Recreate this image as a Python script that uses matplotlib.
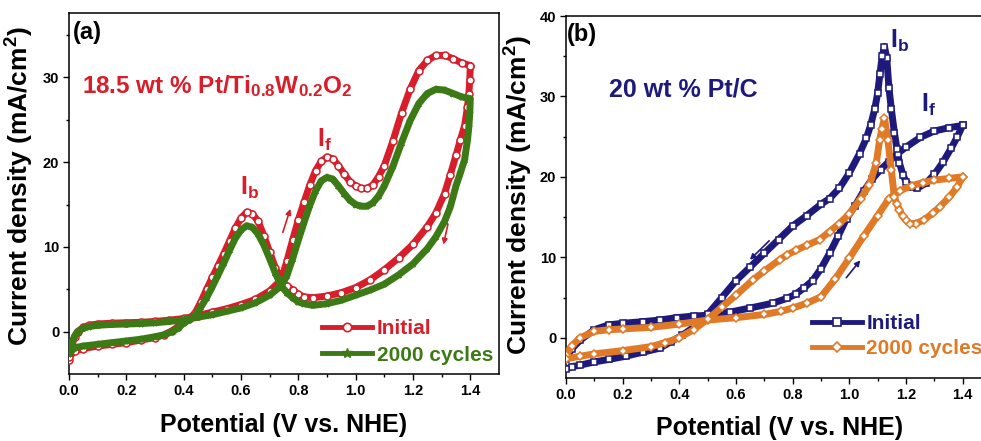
#cyclic voltammograms of Pt/Ti0.8W0.2O2 and Pt/C, initial vs 2000 cycles

import numpy as np
import matplotlib
matplotlib.use('Agg')
import matplotlib.pyplot as plt
from matplotlib.lines import Line2D

plt.rcParams['font.family'] = ['Liberation Sans', 'DejaVu Sans']
plt.rcParams['font.weight'] = 'bold'
plt.rcParams['mathtext.fontset'] = 'custom'
plt.rcParams['mathtext.rm'] = 'Liberation Sans:bold'
plt.rcParams['mathtext.bf'] = 'Liberation Sans:bold'
plt.rcParams['mathtext.it'] = 'Liberation Sans:bold'
plt.rcParams['mathtext.default'] = 'bf'

# ---- panel (a): 18.5 wt % Pt/Ti0.8W0.2O2 ----
a_fwd_v = [0.0, 0.01, 0.02, 0.03, 0.05, 0.07, 0.1, 0.15, 0.2, 0.25, 0.3, 0.35, 0.4, 0.45,
           0.5, 0.55, 0.6, 0.65, 0.7, 0.74, 0.76, 0.78, 0.8, 0.82, 0.84, 0.86, 0.88, 0.9,
           0.92, 0.94, 0.96, 0.98, 1.0, 1.02, 1.04, 1.06, 1.08, 1.1, 1.13, 1.16, 1.19, 1.22,
           1.25, 1.28, 1.31, 1.34, 1.37, 1.4]
a_init_fwd = [-3.3, -1.6, -0.6, 0.0, 0.5, 0.75, 0.9, 1.0, 1.05, 1.1, 1.2, 1.35, 1.55, 1.9,
              2.3, 2.7, 3.2, 3.8, 4.8, 6.1, 8.3, 10.8, 13.2, 15.3, 17.3, 19.0, 20.1, 20.6,
              20.4, 19.6, 18.6, 17.7, 17.2, 16.9, 16.9, 17.3, 18.3, 19.6, 22.5, 25.8, 28.6, 30.8,
              32.0, 32.6, 32.6, 32.2, 31.7, 31.4]
a_cyc_fwd = [-2.6, -1.3, -0.5, 0.0, 0.4, 0.6, 0.75, 0.85, 0.9, 0.95, 1.05, 1.2, 1.4, 1.7,
             2.0, 2.4, 2.8, 3.4, 4.3, 5.4, 6.6, 8.6, 10.8, 12.9, 14.9, 16.6, 17.8, 18.2,
             18.0, 17.2, 16.3, 15.5, 15.0, 14.8, 14.8, 15.2, 16.0, 17.2, 19.5, 22.3, 24.9, 26.9,
             28.1, 28.6, 28.5, 28.1, 27.7, 27.5]

a_bwd_v = [1.4, 1.398, 1.395, 1.39, 1.38, 1.365, 1.35, 1.33, 1.31, 1.28, 1.25, 1.2, 1.15,
           1.1, 1.05, 1.0, 0.95, 0.9, 0.85, 0.82, 0.8, 0.78, 0.76, 0.74, 0.72, 0.7, 0.68,
           0.66, 0.64, 0.62, 0.6, 0.58, 0.56, 0.54, 0.52, 0.5, 0.48, 0.46, 0.44, 0.42, 0.4,
           0.38, 0.36, 0.33, 0.3, 0.25, 0.2, 0.15, 0.1, 0.05, 0.02, 0.0]
a_init_bwd = [31.4, 29.7, 28.1, 26.5, 24.3, 22.6, 20.8, 18.5, 16.3, 14.0, 12.4, 10.3, 8.7,
              7.3, 6.1, 5.2, 4.6, 4.2, 4.0, 4.1, 4.4, 4.9, 5.4, 6.1, 7.5, 9.4, 11.3,
              13.0, 13.9, 14.1, 13.4, 12.2, 10.7, 9.2, 7.8, 6.4, 5.0, 3.5, 2.2, 1.5, 1.2,
              0.6, 0.1, -0.4, -0.7, -1.0, -1.3, -1.5, -1.7, -2.0, -2.3, -3.0]
a_cyc_bwd = [27.5, 25.8, 24.2, 22.6, 20.3, 18.7, 17.2, 14.7, 13.0, 11.2, 9.8, 8.0, 6.7,
             5.6, 4.9, 4.3, 3.7, 3.3, 3.1, 3.3, 3.5, 4.0, 4.6, 5.4, 6.9, 8.6, 10.2,
             11.5, 12.3, 12.5, 12.0, 11.0, 9.6, 8.1, 6.7, 5.3, 4.0, 2.9, 1.9, 1.4, 1.0,
             0.4, 0.0, -0.4, -0.6, -0.9, -1.1, -1.3, -1.5, -1.7, -1.9, -2.6]

# ---- panel (b): 20 wt % Pt/C ----
b_init_fwd_v = [0.0, 0.02, 0.05, 0.1, 0.15, 0.2, 0.27, 0.33, 0.39, 0.45, 0.5, 0.58, 0.65,
                0.73, 0.78, 0.81, 0.84, 0.87, 0.9, 0.93, 0.96, 0.99, 1.02, 1.05, 1.08, 1.11,
                1.14, 1.17, 1.2, 1.25, 1.3, 1.35, 1.4]
b_init_fwd = [-2.6, -1.4, -0.3, 1.0, 1.6, 1.8, 2.0, 2.2, 2.5, 2.7, 2.8, 3.2, 3.7,
              4.3, 4.9, 5.4, 6.2, 7.1, 8.6, 10.5, 12.6, 14.8, 16.4, 18.2, 19.7, 20.9,
              21.9, 22.9, 23.7, 24.9, 25.7, 26.1, 26.4]
b_init_bwd_v = [1.4, 1.38, 1.36, 1.33, 1.3, 1.27, 1.24, 1.22, 1.2, 1.19, 1.177, 1.168, 1.159,
                1.148, 1.14, 1.132, 1.124, 1.116, 1.108, 1.1, 1.09, 1.075, 1.06, 1.036, 1.0,
                0.965, 0.93, 0.9, 0.85, 0.8, 0.75, 0.7, 0.65, 0.6, 0.55, 0.5, 0.45, 0.41,
                0.37, 0.33, 0.27, 0.21, 0.15, 0.1, 0.05, 0.02, 0.0]
b_init_bwd = [26.4, 24.9, 23.6, 21.8, 20.3, 19.2, 18.6, 18.7, 19.4, 20.2, 21.7, 23.5, 25.5,
              28.5, 31.0, 34.8, 36.2, 35.0, 32.8, 30.4, 28.5, 26.4, 24.8, 22.9, 20.5,
              18.6, 17.3, 16.6, 15.2, 13.9, 12.2, 10.5, 8.8, 7.1, 5.0, 2.9, 1.3, 0.3,
              -0.5, -1.3, -1.8, -2.3, -2.7, -3.0, -3.4, -3.6, -3.9]

b_cyc_fwd_v = [0.0, 0.02, 0.05, 0.1, 0.15, 0.2, 0.3, 0.4, 0.5, 0.6, 0.7, 0.76, 0.8, 0.85,
               0.9, 0.95, 1.0, 1.05, 1.1, 1.14, 1.18, 1.22, 1.26, 1.3, 1.35, 1.4]
b_cyc_fwd = [-2.2, -1.0, 0.0, 0.8, 1.0, 1.1, 1.3, 1.7, 2.2, 2.5, 2.9, 3.3, 3.7, 4.3,
             5.1, 7.3, 9.9, 12.6, 15.2, 17.3, 18.3, 18.9, 19.3, 19.6, 19.8, 20.0]
b_cyc_bwd_v = [1.4, 1.38, 1.353, 1.32, 1.295, 1.265, 1.236, 1.215, 1.2, 1.188, 1.177, 1.168,
               1.159, 1.148, 1.136, 1.124, 1.115, 1.107, 1.095, 1.071, 1.04, 1.0, 0.965,
               0.93, 0.895, 0.85, 0.813, 0.78, 0.754, 0.7, 0.66, 0.6, 0.55, 0.5, 0.45, 0.4,
               0.35, 0.3, 0.2, 0.1, 0.05, 0.0]
b_cyc_bwd = [20.0, 18.7, 17.5, 16.3, 15.5, 14.7, 14.2, 14.2, 14.6, 15.1, 15.9, 16.6,
             17.5, 20.9, 24.6, 27.3, 26.0, 24.6, 21.7, 19.0, 17.3, 15.4, 14.2,
             13.2, 12.2, 11.5, 10.9, 10.3, 9.7, 8.3, 7.2, 5.3, 3.8, 2.3, 1.0, 0.0,
             -0.6, -1.1, -1.6, -2.0, -2.3, -2.6]

red = '#d81e2a'
green = '#3c7a16'
navy = '#1e1a7c'
orange = '#e07a26'


def cv_curve(ax, v1, j1, v2, j2, color, marker, mfc, ms):
    v = list(v1) + list(v2)
    j = list(j1) + list(j2)
    ax.plot(v, j, color=color, lw=5, solid_joinstyle='round', solid_capstyle='round',
            marker=marker, ms=ms, mfc=mfc, mec=color, mew=1.1, zorder=3)


def style_axes(ax, ymax, yticks):
    ax.set_xlim(0, 1.5)
    ax.set_ylim(-5, ymax)
    ax.set_xticks(np.arange(0, 1.41, 0.2))
    ax.set_xticklabels(['%.1f' % t for t in np.arange(0, 1.41, 0.2)])
    ax.set_xticks(np.arange(0.1, 1.41, 0.2), minor=True)
    ax.set_yticks(yticks)
    minors = [t + 5 for t in yticks if t + 5 < ymax]
    ax.set_yticks(minors, minor=True)
    ax.tick_params(which='major', direction='out', length=4, width=1, labelsize=10.5, pad=3)
    ax.tick_params(which='minor', direction='out', length=2.5, width=1)
    for lab in ax.get_xticklabels() + ax.get_yticklabels():
        lab.set_fontweight('bold')
    for sp in ax.spines.values():
        sp.set_linewidth(1.1)


fig = plt.figure(figsize=(9.81, 4.41), dpi=100)
ax1 = fig.add_axes([69 / 981, 1 - 374 / 441, 430 / 981, 361 / 441])
ax2 = fig.add_axes([566 / 981, 1 - 378 / 441, 425 / 981, 362 / 441])

# panel (a)
cv_curve(ax1, a_fwd_v, a_init_fwd, a_bwd_v, a_init_bwd, red, 'o', 'white', 5)
cv_curve(ax1, a_fwd_v, a_cyc_fwd, a_bwd_v, a_cyc_bwd, green, '*', green, 5)
style_axes(ax1, 37.6, [0, 10, 20, 30])

ax1.text(0.009, 0.945, '(a)', transform=ax1.transAxes, fontsize=17, fontweight='bold',
         va='center', ha='left')
ax1.text(0.03, 0.778, r'18.5 wt % Pt/Ti$_{0.8}$W$_{0.2}$O$_{2}$', transform=ax1.transAxes,
         fontsize=17.5, fontweight='bold', color=red, va='baseline', ha='left')
ax1.text(0.597, 16.1, r'I$_{b}$', fontsize=18, color=red, va='baseline', ha='left')
ax1.text(0.866, 21.8, r'I$_{f}$', fontsize=18, color=red, va='baseline', ha='left')
ax1.annotate('', xy=(0.775, 14.8), xytext=(0.743, 11.4),
             arrowprops=dict(arrowstyle='-|>', color=red, lw=1.2, mutation_scale=8))
ax1.annotate('', xy=(1.304, 9.95), xytext=(1.324, 13.0),
             arrowprops=dict(arrowstyle='-|>', color=red, lw=1.2, mutation_scale=8))

h1 = [Line2D([], [], color=red, lw=3.5, marker='o', ms=6, mfc='white', mec=red, mew=1.2),
      Line2D([], [], color=green, lw=3.5, marker='*', ms=7, mfc=green, mec=green)]
ax1.legend(h1, ['Initial', '2000 cycles'], loc='upper left', bbox_to_anchor=(0.565, 0.18),
           frameon=False, borderpad=0, handlelength=2.4, handletextpad=0.2,
           labelspacing=0.35, labelcolor=[red, green], prop={'weight': 'bold', 'size': 15})

ax1.set_ylabel(r'Current density (mA/cm$^{2}$)', fontsize=19, fontweight='bold')
ax1.yaxis.set_label_coords(-0.077, 0.52)
ax1.set_xlabel('Potential (V vs. NHE)', fontsize=18, fontweight='bold', va='top')
ax1.xaxis.set_label_coords(0.498, -0.108)

# panel (b)
cv_curve(ax2, b_init_fwd_v, b_init_fwd, b_init_bwd_v, b_init_bwd, navy, 's', 'white', 4.5)
cv_curve(ax2, b_cyc_fwd_v, b_cyc_fwd, b_cyc_bwd_v, b_cyc_bwd, orange, 'D', 'white', 4.5)
style_axes(ax2, 40, [0, 10, 20, 30, 40])

ax2.text(0.003, 0.948, '(b)', transform=ax2.transAxes, fontsize=17, fontweight='bold',
         va='center', ha='left')
ax2.text(0.101, 0.777, '20 wt % Pt/C', transform=ax2.transAxes, fontsize=18,
         fontweight='bold', color=navy, va='baseline', ha='left')
ax2.text(1.142, 36.0, r'I$_{b}$', fontsize=18, color=navy, va='baseline', ha='left')
ax2.text(1.253, 28.1, r'I$_{f}$', fontsize=18, color=navy, va='baseline', ha='left')
ax2.annotate('', xy=(0.642, 9.45), xytext=(0.724, 12.3),
             arrowprops=dict(arrowstyle='-|>', color=navy, lw=1.2, mutation_scale=8))
ax2.annotate('', xy=(1.045, 9.9), xytext=(0.983, 7.2),
             arrowprops=dict(arrowstyle='-|>', color=navy, lw=1.2, mutation_scale=8))

h2 = [Line2D([], [], color=navy, lw=3.5, marker='s', ms=5.5, mfc='white', mec=navy, mew=1.2),
      Line2D([], [], color=orange, lw=3.5, marker='D', ms=5.5, mfc='white', mec=orange, mew=1.2)]
ax2.legend(h2, ['Initial', '2000 cycles'], loc='upper left', bbox_to_anchor=(0.555, 0.205),
           frameon=False, borderpad=0, handlelength=2.4, handletextpad=0.2,
           labelspacing=0.3, labelcolor=[navy, orange], prop={'weight': 'bold', 'size': 15})

ax2.set_ylabel(r'Current density (mA/cm$^{2}$)', fontsize=19, fontweight='bold')
ax2.yaxis.set_label_coords(-0.073, 0.505)
ax2.set_xlabel('Potential (V vs. NHE)', fontsize=18, fontweight='bold', va='top')
ax2.xaxis.set_label_coords(0.503, -0.105)

fig.savefig('out.png', dpi=100)
